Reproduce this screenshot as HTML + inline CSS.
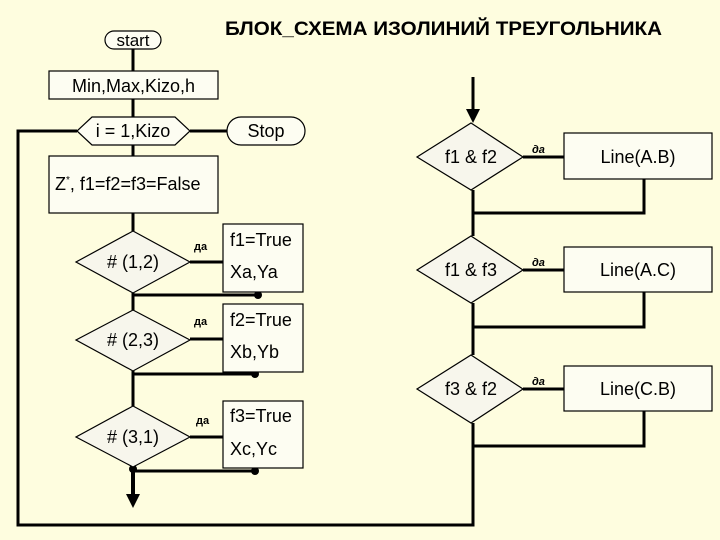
<!DOCTYPE html>
<html><head><meta charset="utf-8"><style>
html,body{margin:0;padding:0;background:#FEFDDF;}
svg{display:block;}
text{font-family:"Liberation Sans",Arial,sans-serif;fill:#000;}
</style></head><body>
<svg width="720" height="540" viewBox="0 0 720 540" xmlns="http://www.w3.org/2000/svg">
<rect width="720" height="540" fill="#FEFDDF"/>
<text x="225" y="35" font-size="19" font-weight="bold" textLength="437" lengthAdjust="spacingAndGlyphs">БЛОК_СХЕМА  ИЗОЛИНИЙ  ТРЕУГОЛЬНИКА</text>

<g stroke="#000" stroke-width="3" fill="none">
<line x1="133" y1="49" x2="133" y2="71"/>
<line x1="133" y1="99" x2="133" y2="117"/>
<line x1="133" y1="145" x2="133" y2="156"/>
<line x1="133" y1="213" x2="133" y2="231"/>
<line x1="133" y1="293" x2="133" y2="310"/>
<line x1="133" y1="371" x2="133" y2="406"/>
<line x1="133" y1="467" x2="133" y2="496" stroke-width="4"/>
<line x1="190" y1="131" x2="227" y2="131"/>
<polyline points="77,131 18,131 18,525 473,525 473,446"/>
<line x1="190" y1="262" x2="223" y2="262"/>
<line x1="190" y1="339" x2="223" y2="339"/>
<line x1="190" y1="437" x2="223" y2="437"/>
<line x1="133" y1="295" x2="258" y2="295"/>
<line x1="133" y1="374" x2="255" y2="374"/>
<line x1="133" y1="471" x2="255" y2="471"/>
<line x1="473" y1="77" x2="473" y2="112"/>
<line x1="473" y1="190" x2="473" y2="236"/>
<line x1="473" y1="303" x2="473" y2="355"/>
<line x1="473" y1="423" x2="473" y2="446"/>
<line x1="523" y1="157" x2="564" y2="157"/>
<line x1="523" y1="270" x2="564" y2="270"/>
<line x1="523" y1="389" x2="564" y2="389"/>
<polyline points="644,179 644,213 473,213"/>
<polyline points="644,292 644,327 473,327"/>
<polyline points="644,411 644,446 473,446"/>
</g>
<g fill="#000">
<polygon points="466,109 480,109 473,123"/>
<polygon points="126,494 140,494 133,508"/>
<circle cx="258" cy="295" r="4"/>
<circle cx="255" cy="374" r="4"/>
<circle cx="255" cy="471" r="4"/>
<circle cx="133" cy="469" r="4"/>
</g>

<g stroke="#000" stroke-width="1.2" fill="#FDFDF2">
<rect x="105" y="31" width="56" height="18" rx="9"/>
<rect x="49" y="71" width="169" height="28"/>
<polygon points="77,131 92,117 175,117 190,131 175,145 92,145"/>
<rect x="227" y="117" width="78" height="28" rx="14"/>
<rect x="49" y="156" width="169" height="57"/>
<polygon points="133,231 190,262 133,293 76,262" fill="#F7F6EC"/>
<polygon points="133,310 190,340 133,371 76,340" fill="#F7F6EC"/>
<polygon points="133,406 190,437 133,467 76,437" fill="#F7F6EC"/>
<rect x="223" y="224" width="80" height="68"/>
<rect x="223" y="304" width="80" height="68"/>
<rect x="223" y="401" width="80" height="67"/>
<polygon points="471,123 523,157 471,190 417,157" fill="#F7F6EC"/>
<polygon points="471,236 523,270 471,303 417,270" fill="#F7F6EC"/>
<polygon points="471,355 523,389 471,423 417,389" fill="#F7F6EC"/>
<rect x="564" y="133" width="148" height="46"/>
<rect x="564" y="247" width="148" height="45"/>
<rect x="564" y="366" width="148" height="45"/>
</g>

<g font-size="18">
<text x="133" y="46" text-anchor="middle" font-size="17">start</text>
<text x="133.5" y="92" text-anchor="middle">Min,Max,Kizo,h</text>
<text x="133" y="137" text-anchor="middle">i = 1,Kizo</text>
<text x="266" y="137" text-anchor="middle">Stop</text>
<text x="55" y="190">Z<tspan font-size="10" dy="-7">*</tspan><tspan dy="7">, f1=f2=f3=False</tspan></text>
<text x="133" y="268" text-anchor="middle"># (1,2)</text>
<text x="133" y="346" text-anchor="middle"># (2,3)</text>
<text x="133" y="443" text-anchor="middle"># (3,1)</text>
<text x="230" y="246">f1=True</text>
<text x="230" y="278">Xa,Ya</text>
<text x="230" y="326">f2=True</text>
<text x="230" y="358">Xb,Yb</text>
<text x="230" y="422">f3=True</text>
<text x="230" y="455">Xc,Yc</text>
<text x="471" y="163" text-anchor="middle">f1 &amp; f2</text>
<text x="471" y="276" text-anchor="middle">f1 &amp; f3</text>
<text x="471" y="395" text-anchor="middle">f3 &amp; f2</text>
<text x="638" y="163" text-anchor="middle">Line(A.B)</text>
<text x="638" y="276" text-anchor="middle">Line(A.C)</text>
<text x="638" y="395" text-anchor="middle">Line(C.B)</text>
</g>
<g font-size="11" font-weight="bold">
<text x="194" y="250">да</text>
<text x="194" y="325">да</text>
<text x="196" y="424">да</text>
<text x="532" y="153" font-style="italic">да</text>
<text x="532" y="266" font-style="italic">да</text>
<text x="532" y="385" font-style="italic">да</text>
</g>
</svg>
</body></html>
